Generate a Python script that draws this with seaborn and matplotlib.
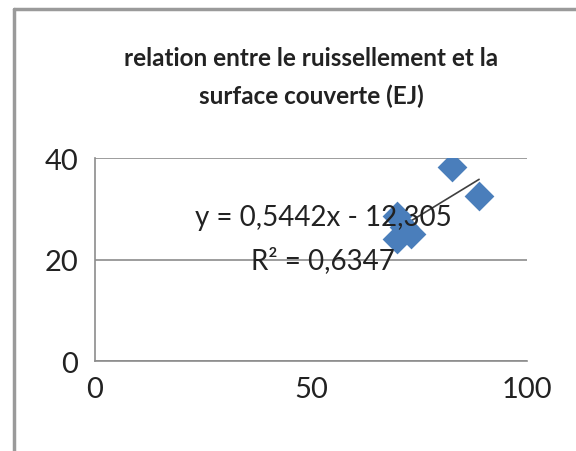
import matplotlib
matplotlib.use("Agg")
import matplotlib.pyplot as plt
from matplotlib.lines import Line2D
import seaborn as sns
import pandas as pd

# surface couverte (%) vs ruissellement
surface = [82.6, 88.9, 69.9, 69.9, 73.1, 71.5]
ruissellement = [38.2, 32.5, 28.5, 24.0, 25.0, 26.4]
x_ticks = [0, 50, 100]
y_ticks = [0, 20, 40]
title = "relation entre le ruissellement et la\nsurface couverte (EJ)"
equation = "y = 0,5442x - 12,305"
r2_text = "R² = 0,6347"

df = pd.DataFrame({"surface": surface, "ruissellement": ruissellement})

sns.set_style("white")
plt.rcParams["font.family"] = ["Lato", "DejaVu Sans"]

fig = plt.figure(figsize=(5.76, 4.52), dpi=100)
ax = fig.add_axes([0.165, 0.199, 0.75, 0.449])

sns.regplot(data=df, x="surface", y="ruissellement", scatter=False, ci=None,
            color="#3f3f3f", line_kws={"linewidth": 1.2}, ax=ax)
sns.scatterplot(data=df, x="surface", y="ruissellement", marker="D", s=230,
                color="#4a7ebb", edgecolor="#4a7ebb", linewidth=0, ax=ax, zorder=3)

ax.set_xlim(0, 100)
ax.set_ylim(0, 40)
ax.set_xticks(x_ticks)
ax.set_yticks(y_ticks)
ax.set_xlabel("")
ax.set_ylabel("")
ax.yaxis.grid(True, color="#8c8c8c", linewidth=1.2)
ax.xaxis.grid(False)
for side in ["top", "right"]:
    ax.spines[side].set_visible(False)
for side in ["left", "bottom"]:
    ax.spines[side].set_color("#8c8c8c")
    ax.spines[side].set_linewidth(1.2)
ax.tick_params(axis="both", direction="out", length=8, width=1.2, color="#8c8c8c",
               labelsize=21, labelcolor="#222222")
ax.tick_params(axis="x", pad=3)
ax.tick_params(axis="y", pad=4)

ax.text(52.8, 28.3, equation, ha="center", va="center", fontsize=20, color="#222222", zorder=4)
ax.text(52.8, 20.1, r2_text, ha="center", va="center", fontsize=20, color="#222222", zorder=4)

fig.text(0.54, 0.829, title, ha="center", va="center", fontsize=17.5, fontweight="bold",
         color="#222222", linespacing=1.75)

# chart frame
fig.add_artist(Line2D([14 / 576, 14 / 576], [0, 1 - 10 / 452], color="#9a9a9a", linewidth=2.5))
fig.add_artist(Line2D([14 / 576, 1], [1 - 10 / 452, 1 - 10 / 452], color="#9a9a9a", linewidth=2.5))

fig.savefig("out.png", dpi=100)
